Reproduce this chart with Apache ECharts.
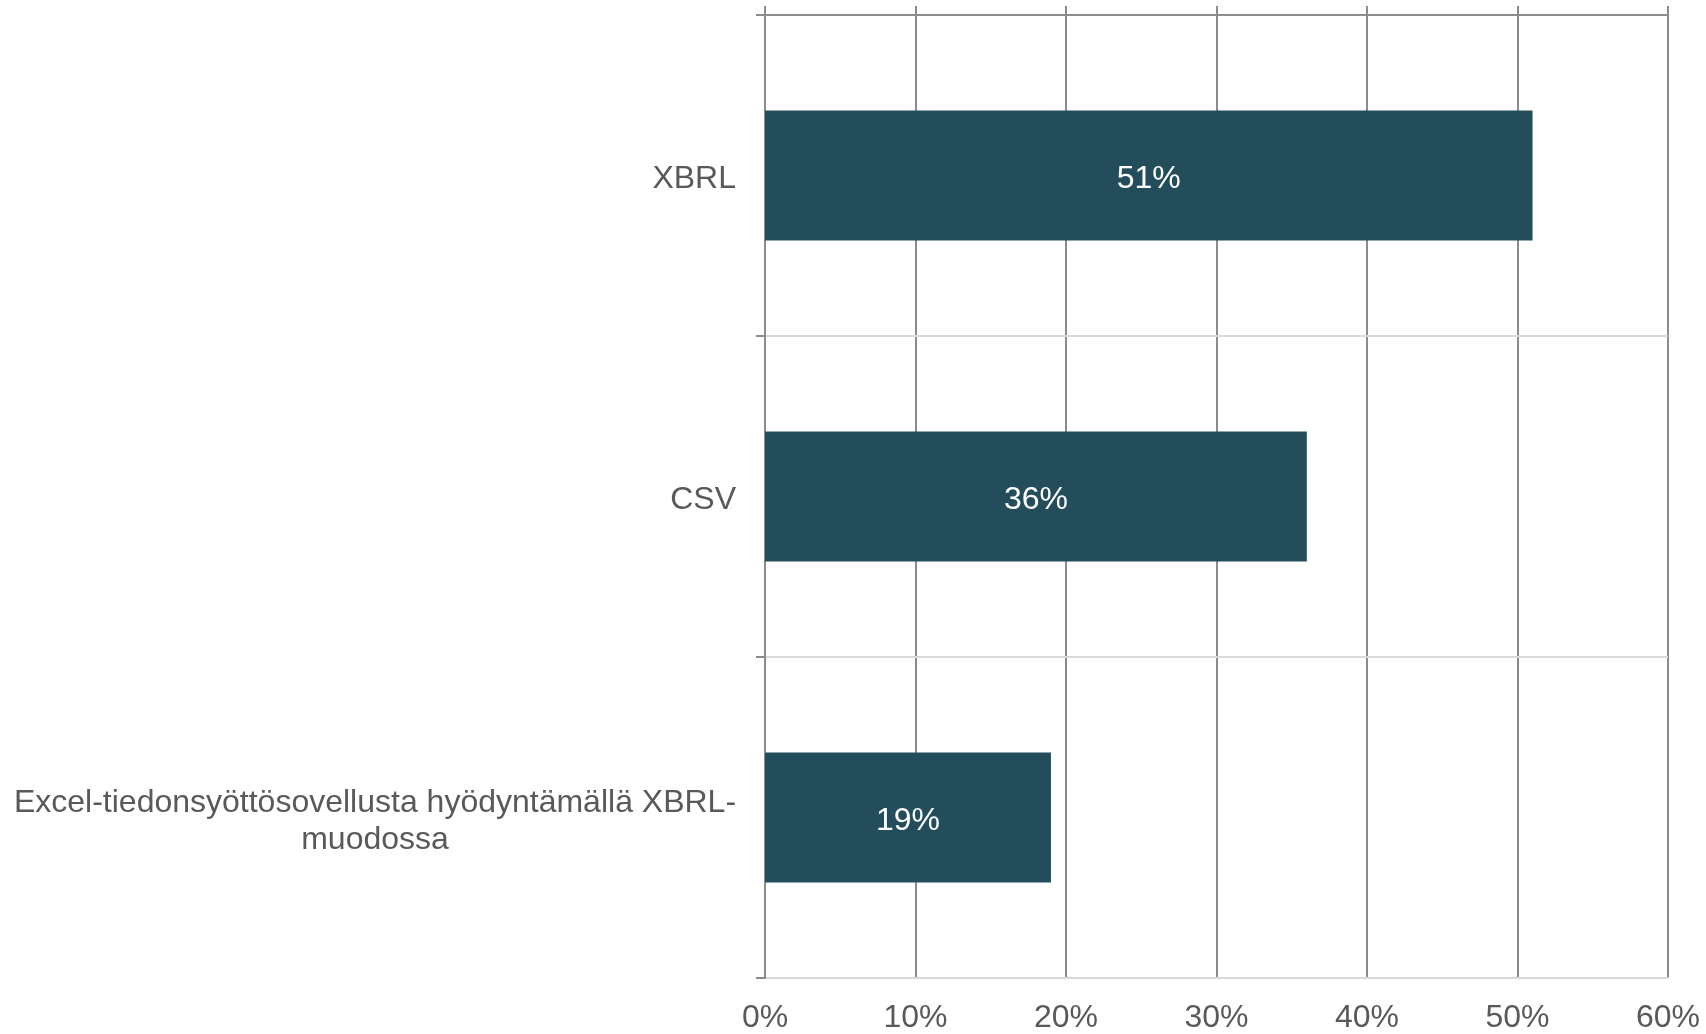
<!DOCTYPE html>
<html>
<head>
<meta charset="utf-8">
<title>chart</title>
<script src="https://cdn.jsdelivr.net/npm/echarts@6/dist/echarts.min.js"></script>
<style>
  html, body { margin: 0; padding: 0; background: #fff; }
  #myChart1 { width: 1706px; height: 1034px; }
</style>
</head>
<body>
<div id="myChart1"></div>
<script>
// data
var categories = ['XBRL', 'CSV', 'Excel-tiedonsyöttösovellusta hyödyntämällä XBRL-muodossa']
var shares = [51, 36, 19]
var tickMin = 0
var tickMax = 60
var tickStep = 10

var darkLine = '#8c8c8c'
var lightLine = '#d9d9d9'
var textColor = '#595959'
var font = 'Liberation Sans, Arial, sans-serif'
var fontSize = 32

var myChart = echarts.init(document.getElementById('myChart1'))

var option = {
  animation: false,
  textStyle: { fontFamily: font },
  grid: {
    left: 765,
    right: 38,
    top: 15,
    bottom: 55,
    containLabel: false
  },
  xAxis: [{
    type: 'value',
    position: 'bottom',
    min: tickMin,
    max: tickMax,
    interval: tickStep,
    axisLine: { show: true, lineStyle: { color: lightLine, width: 2 } },
    axisTick: { show: false },
    axisLabel: {
      margin: 24,
      fontSize: fontSize,
      color: textColor,
      fontFamily: font,
      formatter: '{value}%'
    },
    splitLine: { show: true, lineStyle: { color: darkLine, width: 2 } }
  }, {
    // upper edge: dark line with short ticks sticking out
    type: 'value',
    position: 'top',
    z: 3,
    min: tickMin,
    max: tickMax,
    interval: tickStep,
    axisLine: { show: true, lineStyle: { color: darkLine, width: 2 } },
    axisTick: { show: true, length: 9, lineStyle: { color: darkLine, width: 2 } },
    axisLabel: { show: false },
    splitLine: { show: false }
  }],
  yAxis: {
    type: 'category',
    inverse: true,
    data: categories,
    z: 2,
    axisLine: { show: true, lineStyle: { color: darkLine, width: 2 } },
    axisTick: { show: true, length: 9, lineStyle: { color: darkLine, width: 2 } },
    splitLine: { show: true, lineStyle: { color: lightLine, width: 2 } },
    axisLabel: {
      margin: 29,
      fontSize: fontSize,
      color: textColor,
      fontFamily: font,
      padding: [8, 0, 0, 0],
      formatter: function (v) {
        // the long label is wrapped after "XBRL-" and centred
        var i = v.indexOf('XBRL-m')
        if (i < 0) return v
        return '{w|' + v.slice(0, i + 5) + '}\n{w|' + v.slice(i + 5) + '}'
      },
      rich: {
        w: {
          width: 722,
          align: 'center',
          fontSize: fontSize,
          lineHeight: 37,
          color: textColor,
          fontFamily: font
        }
      }
    }
  },
  series: [{
    type: 'bar',
    xAxisIndex: 0,
    data: shares,
    barWidth: '40.5%',
    itemStyle: { color: '#234d5b' },
    label: {
      show: true,
      position: 'inside',
      offset: [0, 4],
      color: '#ffffff',
      fontSize: fontSize,
      fontFamily: font,
      formatter: '{c}%'
    }
  }]
}

myChart.setOption(option, true)
</script>
</body>
</html>
